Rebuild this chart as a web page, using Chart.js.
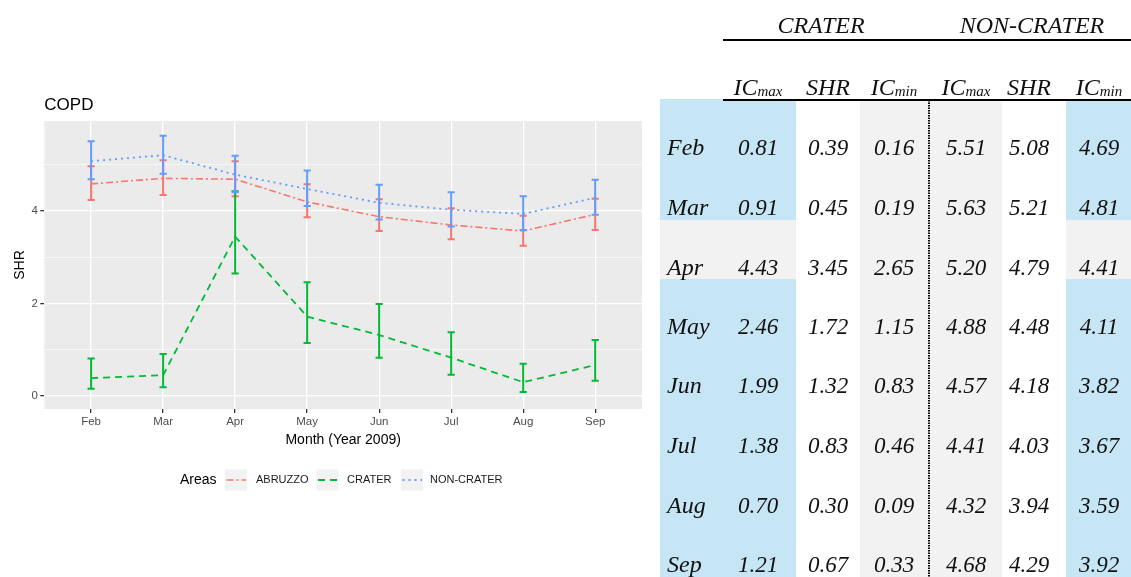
<!DOCTYPE html>
<html>
<head>
<meta charset="utf-8">
<script src="https://cdn.jsdelivr.net/npm/chart.js@4.4.1/dist/chart.umd.min.js"></script>
<style>
  html, body { margin: 0; padding: 0; background: #fff; }
  #wrap { position: relative; width: 1131px; height: 577px; overflow: hidden; }
  #plot { position: absolute; left: 0; top: 0; }
  #tbl { position: absolute; left: 0; top: 0; }
</style>
</head>
<body>
<div id="wrap">
  <canvas id="plot" width="660" height="577"></canvas>
  <svg id="tbl" width="1131" height="577" xmlns="http://www.w3.org/2000/svg"></svg>
</div>
<script>
// Months of 2009 on the x axis
const months = ['Feb', 'Mar', 'Apr', 'May', 'Jun', 'Jul', 'Aug', 'Sep'];

// ABRUZZO: standardized hospitalization ratio with confidence interval
const abruzzoShr = [4.59, 4.71, 4.69, 4.20, 3.88, 3.70, 3.57, 3.93];
const abruzzoMax = [4.97, 5.10, 5.08, 4.58, 4.26, 4.06, 3.90, 4.27];
const abruzzoMin = [4.24, 4.35, 4.32, 3.87, 3.57, 3.39, 3.25, 3.59];

// CRATER
const craterShr = [0.39, 0.45, 3.45, 1.72, 1.32, 0.83, 0.30, 0.67];
const craterMax = [0.81, 0.91, 4.43, 2.46, 1.99, 1.38, 0.70, 1.21];
const craterMin = [0.16, 0.19, 2.65, 1.15, 0.83, 0.46, 0.09, 0.33];

// NON-CRATER
const nonCraterShr = [5.08, 5.21, 4.79, 4.48, 4.18, 4.03, 3.94, 4.29];
const nonCraterMax = [5.51, 5.63, 5.20, 4.88, 4.57, 4.41, 4.32, 4.68];
const nonCraterMin = [4.69, 4.81, 4.41, 4.11, 3.82, 3.67, 3.59, 3.92];

// y axis ticks (major ticks are labelled, odd ones are minor grid lines)
const yTicks = [0, 1, 2, 3, 4, 5];

const series = [
  { name: 'ABRUZZO',    shr: abruzzoShr,   hi: abruzzoMax,   lo: abruzzoMin,   color: '#F8766D', dash: [7, 3, 2, 3], width: 1.6 },
  { name: 'CRATER',     shr: craterShr,    hi: craterMax,    lo: craterMin,    color: '#00BA38', dash: [7, 5],       width: 1.8 },
  { name: 'NON-CRATER', shr: nonCraterShr, hi: nonCraterMax, lo: nonCraterMin, color: '#619CFF', dash: [2, 4],       width: 1.8 }
];

const SANS = '"Liberation Sans", Arial, Helvetica, sans-serif';

// grey panel behind the plot
const panelBg = {
  id: 'panelBg',
  beforeDraw(chart) {
    const { ctx, chartArea: a } = chart;
    ctx.save();
    ctx.fillStyle = '#EBEBEB';
    ctx.fillRect(a.left, a.top, a.right - a.left, a.bottom - a.top);
    ctx.restore();
  }
};

// vertical interval bars with caps
const errorBars = {
  id: 'errorBars',
  afterDatasetsDraw(chart) {
    const { ctx } = chart;
    const xs = chart.scales.x, ys = chart.scales.y;
    ctx.save();
    ctx.lineWidth = 2;
    ctx.lineCap = 'butt';
    series.forEach(s => {
      ctx.strokeStyle = s.color;
      s.shr.forEach((_, i) => {
        const x = xs.getPixelForValue(i);
        const xl = xs.getPixelForValue(i - 0.05);
        const xr = xs.getPixelForValue(i + 0.05);
        const yh = ys.getPixelForValue(s.hi[i]);
        const yl = ys.getPixelForValue(s.lo[i]);
        ctx.beginPath();
        ctx.moveTo(x, yh); ctx.lineTo(x, yl);
        ctx.moveTo(xl, yh); ctx.lineTo(xr, yh);
        ctx.moveTo(xl, yl); ctx.lineTo(xr, yl);
        ctx.stroke();
      });
    });
    ctx.restore();
  }
};

// plot title and the legend row underneath the axis
const titleLegend = {
  id: 'titleLegend',
  afterDraw(chart) {
    const { ctx, chartArea: a } = chart;
    ctx.save();
    ctx.fillStyle = '#000';
    ctx.font = '17px ' + SANS;
    ctx.textBaseline = 'alphabetic';
    ctx.textAlign = 'left';
    ctx.fillText('COPD', a.left, 110);

    const cy = 480;
    ctx.font = '14px ' + SANS;
    ctx.textBaseline = 'middle';
    ctx.fillText('Areas', 180, cy);
    const keyX = [225, 316.5, 401];
    const labX = [256, 347, 430];
    ctx.font = '11px ' + SANS;
    series.forEach((s, k) => {
      ctx.fillStyle = '#F2F2F2';
      ctx.fillRect(keyX[k], cy - 10.5, 22, 21);
      ctx.strokeStyle = s.color;
      ctx.lineWidth = s.width;
      ctx.setLineDash(s.dash);
      ctx.beginPath();
      ctx.moveTo(keyX[k] + 1.5, cy);
      ctx.lineTo(keyX[k] + 21, cy);
      ctx.stroke();
      ctx.setLineDash([]);
      ctx.fillStyle = '#1A1A1A';
      ctx.fillText(s.name, labX[k], cy);
    });
    ctx.restore();
  }
};

new Chart(document.getElementById('plot'), {
  type: 'line',
  data: {
    datasets: series.map(s => ({
      label: s.name,
      data: s.shr.map((v, i) => ({ x: i, y: v })),
      borderColor: s.color,
      borderWidth: s.width,
      borderDash: s.dash,
      pointRadius: 0,
      fill: false,
      tension: 0
    }))
  },
  options: {
    responsive: false,
    animation: false,
    devicePixelRatio: 1,
    layout: { padding: { top: 121, left: 0, right: 18, bottom: 128 } },
    plugins: { legend: { display: false }, tooltip: { enabled: false }, title: { display: false } },
    scales: {
      x: {
        type: 'linear',
        min: -0.65,
        max: 7.65,
        afterBuildTicks: s => { s.ticks = months.map((m, i) => ({ value: i })); },
        afterFit: s => { s.height = 40; },
        border: { display: false },
        grid: { color: '#FFFFFF', lineWidth: 1.3, tickLength: 4, tickColor: '#333333' },
        ticks: {
          callback: v => months[v],
          color: '#4D4D4D',
          font: { family: SANS, size: 11.5 },
          padding: 2,
          maxRotation: 0,
          autoSkip: false
        },
        title: {
          display: true,
          text: 'Month (Year 2009)',
          color: '#000',
          font: { family: SANS, size: 14 },
          padding: { top: 3.6, bottom: 0 }
        }
      },
      y: {
        min: -0.28,
        max: 5.95,
        afterBuildTicks: s => { s.ticks = yTicks.map(v => ({ value: v })); },
        afterFit: s => { s.width = 44.3; },
        border: { display: false },
        grid: {
          color: '#FFFFFF',
          lineWidth: c => (c.tick && c.tick.value % 2 === 0) ? 1.3 : 0.6,
          tickLength: 4,
          tickColor: c => (c.tick && c.tick.value % 2 === 0) ? '#333333' : 'rgba(0,0,0,0)'
        },
        ticks: {
          callback: v => (v % 2 === 0 ? String(v) : ''),
          color: '#4D4D4D',
          font: { family: SANS, size: 11.5 },
          padding: 2.5
        },
        title: {
          display: true,
          text: 'SHR',
          color: '#000',
          font: { family: SANS, size: 14 },
          padding: { top: 11.6, bottom: 0 }
        }
      }
    }
  },
  plugins: [panelBg, errorBars, titleLegend]
});

// ---- summary table of CRATER / NON-CRATER intervals ----
const svg = document.getElementById('tbl');
const NS = 'http://www.w3.org/2000/svg';
function el(tag, attrs, text) {
  const e = document.createElementNS(NS, tag);
  for (const k in attrs) e.setAttribute(k, attrs[k]);
  if (text !== undefined) e.textContent = text;
  svg.appendChild(e);
  return e;
}
const BLUE = '#C6E6F5', GREY = '#F2F2F2';
const SERIF = '"Liberation Serif", "Times New Roman", serif';

// cell shading
el('rect', { x: 860, y: 100, width: 142, height: 477, fill: GREY });
[[660, 136], [1066, 65]].forEach(([x, w]) => {
  el('rect', { x: x, y: 99, width: w, height: 121, fill: BLUE });
  el('rect', { x: x, y: 220, width: w, height: 59, fill: GREY });
  el('rect', { x: x, y: 279, width: w, height: 298, fill: BLUE });
});

// rules
el('line', { x1: 723, y1: 40, x2: 1131, y2: 40, stroke: '#000', 'stroke-width': 2 });
el('line', { x1: 723, y1: 100, x2: 1131, y2: 100, stroke: '#000', 'stroke-width': 2 });
el('line', { x1: 929, y1: 100, x2: 929, y2: 577, stroke: '#000', 'stroke-width': 2, 'stroke-dasharray': '1.5,1' });

// group headers
const groups = [['CRATER', 821], ['NON-CRATER', 1032]];
groups.forEach(([t, x]) => el('text', { x: x, y: 33, 'text-anchor': 'middle', 'font-family': SERIF, 'font-style': 'italic', 'font-size': 24, fill: '#111' }, t));

// column headers
const colX = [758, 828, 894, 966, 1029, 1099];
const heads = [['IC', 'max'], ['SHR', ''], ['IC', 'min'], ['IC', 'max'], ['SHR', ''], ['IC', 'min']];
heads.forEach(([main, sub], c) => {
  const t = el('text', { x: colX[c], y: 95, 'text-anchor': 'middle', 'font-family': SERIF, 'font-style': 'italic', 'font-size': 24, fill: '#111' });
  const a = document.createElementNS(NS, 'tspan'); a.textContent = main; t.appendChild(a);
  if (sub) {
    const b = document.createElementNS(NS, 'tspan');
    b.setAttribute('font-size', 15); b.setAttribute('dy', 1); b.textContent = sub; t.appendChild(b);
  }
});

// body rows
const rowY = [155, 215, 275, 334, 393, 453, 513, 572];
const columns = [craterMax, craterShr, craterMin, nonCraterMax, nonCraterShr, nonCraterMin];
months.forEach((m, r) => {
  el('text', { x: 667, y: rowY[r], 'font-family': SERIF, 'font-style': 'italic', 'font-size': 24, fill: '#111' }, m);
  columns.forEach((col, c) => {
    el('text', { x: colX[c], y: rowY[r], 'text-anchor': 'middle', 'font-family': SERIF, 'font-style': 'italic', 'font-size': 23, fill: '#111' }, col[r].toFixed(2));
  });
});
</script>
</body>
</html>
